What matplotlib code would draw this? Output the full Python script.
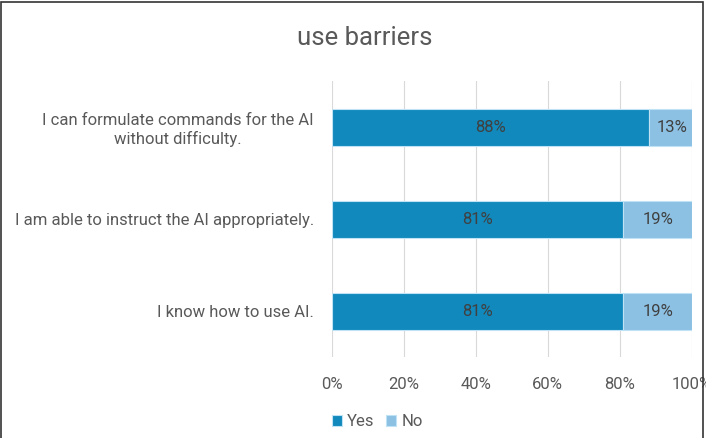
import matplotlib.pyplot as plt
from matplotlib.patches import Rectangle

plt.rcParams['font.family'] = ['Roboto', 'DejaVu Sans']

# data
statements = ["I know how to use AI.",
              "I am able to instruct the AI appropriately.",
              "I can formulate commands for the AI\nwithout difficulty."]
yes = [81, 81, 88]
no = [19, 19, 13]
yes_color = '#1189bc'
no_color = '#8cc1e4'
text_color = '#595959'

fig = plt.figure(figsize=(7.06, 4.38), dpi=100)
ax = fig.add_axes([0.470, 0.184, 0.510, 0.630])

ypos = range(len(statements))
b1 = ax.barh(ypos, yes, height=0.40, color=yes_color, edgecolor='#bfe3f5', linewidth=0.8, label='Yes', zorder=2)
b2 = ax.barh(ypos, no, left=yes, height=0.40, color=no_color, edgecolor='#bfe3f5', linewidth=0.8, label='No', zorder=2)

for i in ypos:
    ax.text(yes[i] / 2, i, f"{yes[i]}%", ha='center', va='center', fontsize=12, color='#404040', zorder=3)
    ax.text(yes[i] + no[i] / 2, i, f"{no[i]}%", ha='center', va='center', fontsize=12, color='#404040', zorder=3)

ax.set_xlim(0, 100)
ax.set_ylim(-0.5, 2.5)
ax.set_xticks([0, 20, 40, 60, 80, 100])
ax.set_xticklabels([f"{v}%" for v in [0, 20, 40, 60, 80, 100]])
ax.set_yticks(list(ypos))
ax.set_yticklabels(statements, ha='right', multialignment='center')
ax.tick_params(axis='both', length=0, labelsize=12, labelcolor=text_color)
ax.tick_params(axis='x', pad=14)
ax.tick_params(axis='y', pad=13)
ax.grid(axis='x', color='#d9d9d9', linewidth=0.8, zorder=0)
for s in ax.spines.values():
    s.set_visible(False)

fig.text(0.517, 0.913, "use barriers", ha='center', va='center', fontsize=18.5, color=text_color)

fig.legend(handles=[b1, b2], labels=['Yes', 'No'], loc='center left', bbox_to_anchor=(0.449, 0.037),
           ncol=2, frameon=False, fontsize=12, labelcolor=text_color,
           handlelength=0.6, handleheight=0.6, handletextpad=0.3, columnspacing=0.7)

fig.add_artist(Rectangle((0.002, -0.01), 0.994, 1.005, transform=fig.transFigure,
                         fill=False, edgecolor='#333333', linewidth=1.2))

fig.savefig('out.png', dpi=100)
